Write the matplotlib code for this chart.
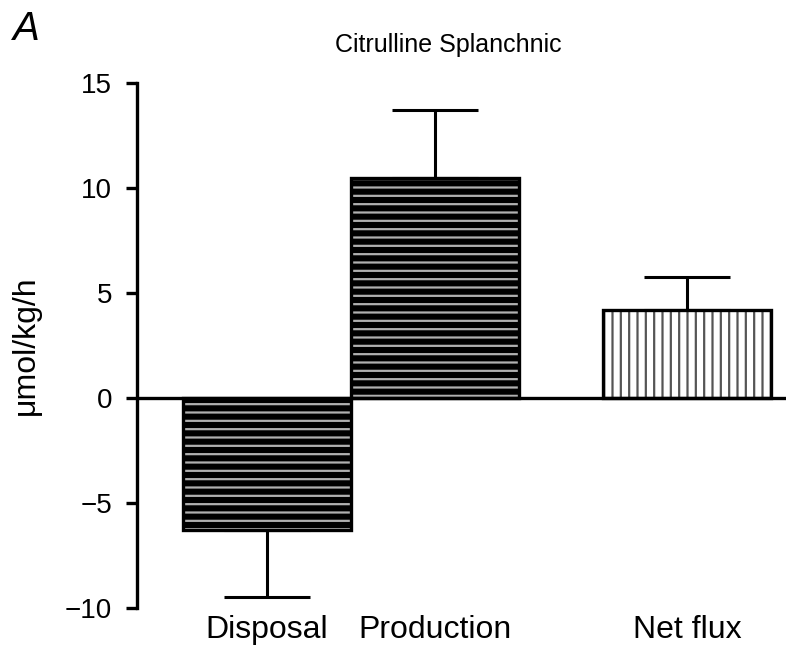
import numpy as np
import matplotlib.pyplot as plt

plt.rcParams['font.family'] = ['Liberation Sans', 'DejaVu Sans']

# dados
categorias = ['Disposal', 'Production', 'Net flux']
posicoes = [0, 1, 2.5]
valores = [-6.3, 10.5, 4.2]
erros = [3.2, 3.2, 1.55]
hachuras = ['--', '--', '||']
cores_fundo = ['black', 'black', 'white']
cores_hachura = ['#b0b0b0', '#b0b0b0', '#555555']

fig = plt.figure(figsize=(7.86, 6.45), dpi=100)
ax = fig.add_axes([0.1743, 0.0574, 0.8257, 0.8139])

plt.rcParams['hatch.linewidth'] = 1.6
for i, x in enumerate(posicoes):
    v = valores[i]
    ax.bar(x, v, width=1.0, color=cores_fundo[i], edgecolor=cores_hachura[i],
           hatch=hachuras[i], linewidth=0, zorder=2)
    ax.bar(x, v, width=1.0, fill=False, edgecolor='black', linewidth=2.4, zorder=3)
    # barra de erro só para um lado
    if v < 0:
        yerr = [[erros[i]], [0]]
    else:
        yerr = [[0], [erros[i]]]
    ax.errorbar(x, v, yerr=yerr, fmt='none', ecolor='black', elinewidth=2.2,
                capsize=31, capthick=2.2, zorder=1)

ax.axhline(0, color='black', linewidth=2.4, zorder=4)
ax.set_xlim(-0.774, 3.09)
ax.set_ylim(-10, 15)
ax.set_yticks([-10, -5, 0, 5, 10, 15])
ax.set_yticklabels(['\u221210', '\u22125', '0', '5', '10', '15'])
ax.set_xticks(posicoes)
ax.set_xticklabels(categorias)
ax.tick_params(axis='y', length=8, width=2.4, labelsize=20, pad=10)
ax.tick_params(axis='x', length=0, labelsize=23, pad=5)
for s in ['top', 'right', 'bottom']:
    ax.spines[s].set_visible(False)
ax.spines['left'].set_linewidth(2.4)

ax.set_ylabel('\u03bcmol/kg/h', fontsize=23)
ax.yaxis.set_label_coords(-0.148, 0.5)
fig.text(0.57, 0.93, 'Citrulline Splanchnic', fontsize=18, ha='center', va='center')
fig.text(0.016, 0.955, 'A', fontsize=29, style='italic', ha='left', va='center')

fig.savefig('out.png', dpi=100)
